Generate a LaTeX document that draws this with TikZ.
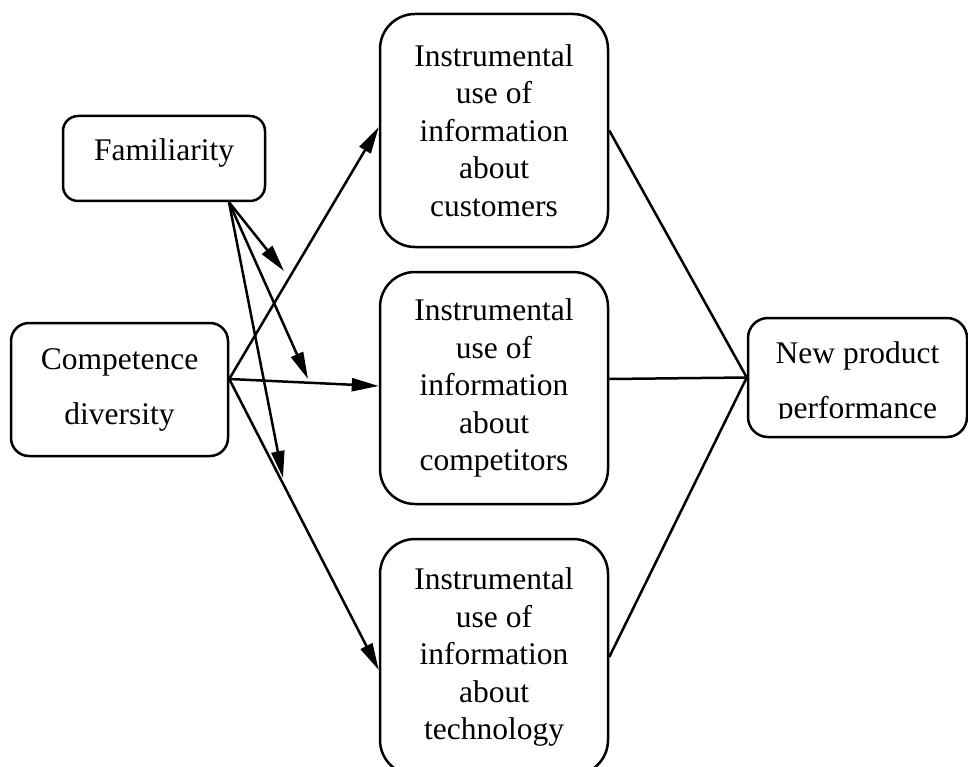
\documentclass[tikz,border=0pt]{standalone}
\usepackage{fontspec}
\setmainfont{Liberation Serif}
\usetikzlibrary{arrows.meta}
\begin{document}
\begin{tikzpicture}[x=1pt,y=-1pt,
  box/.style={draw, line width=2.5pt, inner sep=0pt, align=center,
    font=\fontsize{31.5}{37.5}\selectfont},
  infobox/.style={box, rounded corners=35pt, minimum width=228pt},
  link/.style={line width=2.5pt},
  arr/.style={link, -{Triangle[length=27pt,width=13pt]}}]
\useasboundingbox (0,0) rectangle (968,767);

% antecedents
\node[box, rounded corners=15pt, minimum width=202pt, minimum height=85pt,
      text height=22pt, text depth=17pt] (fam) at (164,158.5) {Familiarity};
\node[box, rounded corners=18pt, minimum width=217pt, minimum height=133pt,
      font=\fontsize{31.5}{55}\selectfont] (cd) at (119.5,389.5) {Competence\\diversity};

% information use
\node[infobox, minimum height=233pt] (cust) at (494,130.5)
  {Instrumental\\use of\\information\\about\\customers};
\node[infobox, minimum height=232pt] (comp) at (494,388)
  {Instrumental\\use of\\information\\about\\competitors};
\node[infobox, minimum height=236pt] (tech) at (494,657)
  {Instrumental\\use of\\information\\about\\technology};

% outcome
\node[box, rounded corners=20pt, minimum width=219pt, minimum height=119pt] (npp) at (857.5,377.5) {};
\begin{scope}
  \clip (748,318) rectangle (967,418.5);
  \node[align=center, inner sep=0pt, font=\fontsize{31.5}{55}\selectfont] (npptext) at (857.5,383)
    {New product\\performance};
\end{scope}

% main effects
\draw[arr] ([yshift=10.5pt]cd.east) -- ([yshift=3.5pt]cust.west);
\draw[arr] ([yshift=10.5pt]cd.east) -- ([yshift=2pt]comp.west);
\draw[arr] ([yshift=10.5pt]cd.east) -- ([yshift=-13pt]tech.west);

% moderating effects of familiarity
\coordinate (m1) at (284,271);
\coordinate (m2) at (308,379);
\coordinate (m3) at (283,478);
\draw[arr] ([xshift=65pt]fam.south) -- (m1);
\draw[arr] ([xshift=65pt]fam.south) -- (m2);
\draw[arr] ([xshift=65pt]fam.south) -- (m3);

% links to performance
\draw[link] (cust.east) -- (npp.west);
\draw[link] ([yshift=9pt]comp.east) -- (npp.west);
\draw[link] (tech.east) -- (npp.west);
\end{tikzpicture}
\end{document}
